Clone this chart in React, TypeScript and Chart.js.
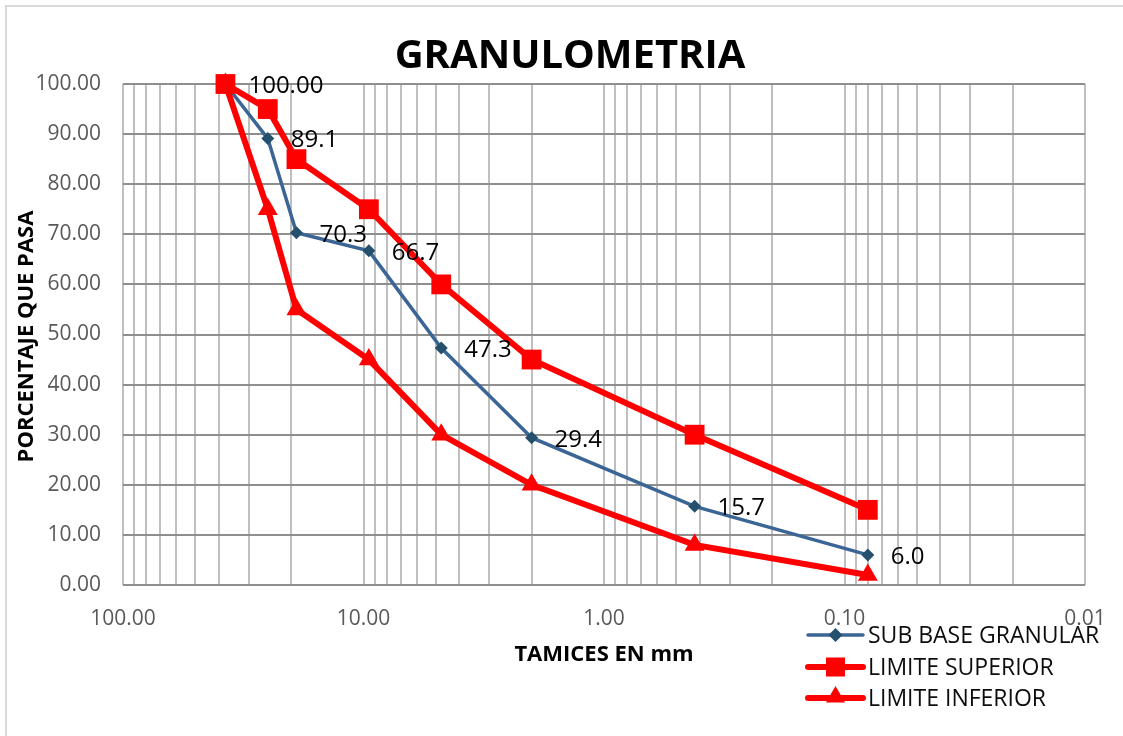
import React, { useEffect, useRef } from "react";
import { Chart, registerables } from "chart.js";

Chart.register(...registerables);

const TITLE = "GRANULOMETRIA";
const X_TITLE = "TAMICES EN mm";
const Y_TITLE = "PORCENTAJE QUE PASA";

const SIEVE_MM = [37.5, 25, 19, 9.5, 4.75, 2.0, 0.42, 0.08];
const SUB_BASE = [100, 89.1, 70.3, 66.7, 47.3, 29.4, 15.7, 6.0];
const LIMITE_SUPERIOR = [100, 95, 85, 75, 60, 45, 30, 15];
const LIMITE_INFERIOR = [100, 75, 55, 45, 30, 20, 8, 2];

const SERIES_NAMES = ["SUB BASE GRANULAR", "LIMITE SUPERIOR", "LIMITE INFERIOR"];

const X_DECADES = [0.01, 0.1, 1, 10];
const X_MINOR_STEPS = [1, 2, 3, 4, 5, 6, 7, 8, 9];
const X_MAX = 100;

const BLUE_LINE = "#3A6595";
const BLUE_POINT = "#24506E";
const RED = "#FF0000";
const FONT = "'Open Sans', 'DejaVu Sans', sans-serif";

function toXY(values: number[]) {
  return SIEVE_MM.map((x, i) => ({ x, y: values[i] }));
}

function isDecade(v: number) {
  const l = Math.log10(v);
  return Math.abs(l - Math.round(l)) < 1e-9;
}

function drawDiamond(ctx: CanvasRenderingContext2D, x: number, y: number, r: number) {
  ctx.beginPath();
  ctx.moveTo(x, y - r);
  ctx.lineTo(x + r, y);
  ctx.lineTo(x, y + r);
  ctx.lineTo(x - r, y);
  ctx.closePath();
  ctx.fill();
}

function drawSquare(ctx: CanvasRenderingContext2D, x: number, y: number, s: number) {
  ctx.fillRect(x - s / 2, y - s / 2, s, s);
}

function drawTriangle(ctx: CanvasRenderingContext2D, x: number, y: number, r: number) {
  const w = r * Math.sin((2 * Math.PI) / 3);
  ctx.beginPath();
  ctx.moveTo(x, y - r);
  ctx.lineTo(x + w, y + r / 2);
  ctx.lineTo(x - w, y + r / 2);
  ctx.closePath();
  ctx.fill();
}

const decorPlugin = {
  id: "decor",
  beforeDraw(chart: any) {
    const ctx = chart.ctx as CanvasRenderingContext2D;
    ctx.save();
    ctx.fillStyle = "#ffffff";
    ctx.fillRect(0, 0, chart.width, chart.height);
    ctx.strokeStyle = "#d9d9d9";
    ctx.lineWidth = 2;
    ctx.strokeRect(6, 6, chart.width + 20, chart.height + 20);
    ctx.restore();
  },
  afterDraw(chart: any) {
    const ctx = chart.ctx as CanvasRenderingContext2D;
    const area = chart.chartArea;
    ctx.save();

    // Title
    ctx.fillStyle = "#000000";
    ctx.font = `bold 40px ${FONT}`;
    ctx.textAlign = "center";
    ctx.textBaseline = "middle";
    ctx.fillText(TITLE, 570, 57);

    // X axis title
    ctx.font = `bold 22px ${FONT}`;
    ctx.fillText(X_TITLE, (area.left + area.right) / 2, 655);

    // Y axis title
    ctx.save();
    ctx.translate(27, (area.top + area.bottom) / 2 + 2);
    ctx.rotate(-Math.PI / 2);
    ctx.fillText(Y_TITLE, 0, 0);
    ctx.restore();

    // Data labels on SUB BASE series
    const meta = chart.getDatasetMeta(0);
    ctx.font = `24px ${FONT}`;
    ctx.textAlign = "left";
    ctx.fillStyle = "#000000";
    meta.data.forEach((pt: any, i: number) => {
      const v = SUB_BASE[i];
      const txt = i === 0 ? v.toFixed(2) : v.toFixed(1);
      ctx.fillText(txt, pt.x + 23, pt.y + 2);
    });

    // Legend
    const lx0 = 808;
    const lx1 = 863;
    const lxc = (lx0 + lx1) / 2;
    const rows = [635, 667, 698];
    ctx.lineCap = "round";
    ctx.strokeStyle = BLUE_LINE;
    ctx.lineWidth = 3.5;
    ctx.beginPath();
    ctx.moveTo(lx0, rows[0]);
    ctx.lineTo(lx1, rows[0]);
    ctx.stroke();
    ctx.fillStyle = BLUE_POINT;
    drawDiamond(ctx, lxc, rows[0], 7);

    ctx.strokeStyle = RED;
    ctx.lineWidth = 6;
    ctx.beginPath();
    ctx.moveTo(lx0, rows[1]);
    ctx.lineTo(lx1, rows[1]);
    ctx.stroke();
    ctx.fillStyle = RED;
    drawSquare(ctx, lxc, rows[1], 19);

    ctx.beginPath();
    ctx.moveTo(lx0, rows[2]);
    ctx.lineTo(lx1, rows[2]);
    ctx.stroke();
    drawTriangle(ctx, lxc, rows[2] - 1, 11);

    ctx.fillStyle = "#0d0d0d";
    ctx.font = `23px ${FONT}`;
    ctx.textAlign = "left";
    ctx.textBaseline = "middle";
    SERIES_NAMES.forEach((name, i) => {
      ctx.fillText(name, 868, rows[i] + 1);
    });

    ctx.restore();
  },
};

export default function App() {
  const canvasRef = useRef<HTMLCanvasElement | null>(null);

  useEffect(() => {
    const canvas = canvasRef.current;
    if (!canvas) return;

    const xGrid: number[] = [];
    X_DECADES.forEach((d) => X_MINOR_STEPS.forEach((m) => xGrid.push(d * m)));
    xGrid.push(X_MAX);

    const chart = new Chart(canvas, {
      type: "scatter",
      data: {
        datasets: [
          {
            label: SERIES_NAMES[0],
            data: toXY(SUB_BASE),
            showLine: true,
            borderColor: BLUE_LINE,
            borderWidth: 3.5,
            pointStyle: "rectRot",
            pointRadius: 6.5,
            pointBackgroundColor: BLUE_POINT,
            pointBorderColor: BLUE_POINT,
            pointBorderWidth: 0,
            tension: 0,
            clip: false,
            order: 3,
          },
          {
            label: SERIES_NAMES[1],
            data: toXY(LIMITE_SUPERIOR),
            showLine: true,
            borderColor: RED,
            borderWidth: 6,
            pointStyle: "rect",
            pointRadius: 14,
            pointBackgroundColor: RED,
            pointBorderColor: RED,
            pointBorderWidth: 0,
            tension: 0,
            clip: false,
            order: 1,
          },
          {
            label: SERIES_NAMES[2],
            data: toXY(LIMITE_INFERIOR),
            showLine: true,
            borderColor: RED,
            borderWidth: 6,
            pointStyle: "triangle",
            pointRadius: 11.5,
            pointBackgroundColor: RED,
            pointBorderColor: RED,
            pointBorderWidth: 0,
            tension: 0,
            clip: false,
            order: 2,
          },
        ],
      } as any,
      options: {
        animation: false,
        responsive: false,
        maintainAspectRatio: false,
        events: [],
        layout: { padding: { top: 84, right: 38, left: 0, bottom: 0 } },
        plugins: {
          legend: { display: false },
          title: { display: false },
          tooltip: { enabled: false },
        },
        scales: {
          x: {
            type: "logarithmic",
            reverse: true,
            min: 0.01,
            max: 100,
            border: { display: false },
            grid: { color: "#bfbfbf", lineWidth: 2, drawTicks: false },
            afterBuildTicks: (scale: any) => {
              scale.ticks = xGrid.map((v) => ({ value: v }));
            },
            afterFit: (scale: any) => {
              scale.height = 736 - 585;
            },
            ticks: {
              autoSkip: false,
              maxRotation: 0,
              minRotation: 0,
              padding: 21,
              color: "#595959",
              font: { family: FONT, size: 21 },
              callback: (value: any) => {
                const v = Number(value);
                return isDecade(v) ? v.toFixed(2) : "";
              },
            },
          },
          y: {
            type: "linear",
            min: 0,
            max: 100,
            border: { display: false },
            grid: { color: "#8e8e8e", lineWidth: 2, drawTicks: false },
            afterFit: (scale: any) => {
              scale.width = 123;
            },
            ticks: {
              stepSize: 10,
              padding: 22,
              color: "#595959",
              font: { family: FONT, size: 21 },
              callback: (value: any) => Number(value).toFixed(2),
            },
          },
        },
      } as any,
      plugins: [decorPlugin],
    });

    return () => chart.destroy();
  }, []);

  return (
    <div style={{ position: "fixed", left: 0, top: 0, width: 1123, height: 736, background: "#fff" }}>
      <canvas ref={canvasRef} width={1123} height={736} style={{ display: "block", width: 1123, height: 736 }} />
    </div>
  );
}
